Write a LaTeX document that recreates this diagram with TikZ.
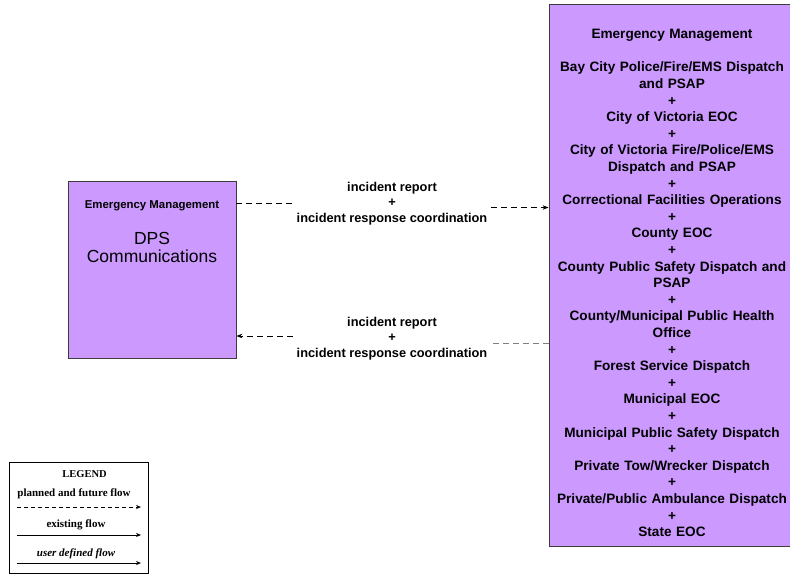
\documentclass[tikz,border=0pt]{standalone}
\usepackage{fontspec}
\setmainfont{Liberation Sans}
\newfontfamily\legendfont{Liberation Serif}
\usetikzlibrary{arrows.meta,calc}
\definecolor{boxfill}{RGB}{204,153,255}
\definecolor{boxline}{RGB}{60,60,60}
\tikzset{
  entity/.style={draw=boxline,fill=boxfill,line width=0.8pt,inner sep=0pt},
  flowlabel/.style={align=center,font=\bfseries\fontsize{12.8}{15.5}\selectfont,inner sep=1pt},
  planned/.style={line width=0.8pt,dash pattern=on 6pt off 4pt,-{Stealth[length=6pt,width=4.5pt]}},
  legtext/.style={font=\legendfont\bfseries\fontsize{11}{12}\selectfont,inner sep=0pt}
}
\begin{document}
\begin{tikzpicture}[x=1pt,y=-1pt]
\useasboundingbox (0,0) rectangle (790,574);
\fill[white] (0,0) rectangle (790,574);
% left entity
\node[entity,minimum width=168pt,minimum height=177pt] (L) at (152,269.5) {};
\node[font=\bfseries\fontsize{11.4}{12}\selectfont,inner sep=0pt] (Lt) at (152,206) {Emergency Management};
\node[align=center,font=\fontsize{17.5}{18}\selectfont,inner sep=0pt] (Ln) at (152,247) {DPS\\Communications};
% right entity
\node[entity,minimum width=250pt,minimum height=542pt] (R) at (674,275) {};
\node[align=center,font=\bfseries\fontsize{13.6}{16.6}\selectfont,inner sep=0pt,text width=248pt] (Rt) at (672,283) {Emergency Management\\[16.6pt]
Bay City Police/Fire/EMS Dispatch\\and PSAP\\+\\City of Victoria EOC\\+\\City of Victoria Fire/Police/EMS\\Dispatch and PSAP\\+\\Correctional Facilities Operations\\+\\County EOC\\+\\County Public Safety Dispatch and\\PSAP\\+\\County/Municipal Public Health\\Office\\+\\Forest Service Dispatch\\+\\Municipal EOC\\+\\Municipal Public Safety Dispatch\\+\\Private Tow/Wrecker Dispatch\\+\\Private/Public Ambulance Dispatch\\+\\State EOC};
% flows
\node[flowlabel] (f1) at (392,203.5) {incident report\\+\\incident response coordination};
\node[flowlabel] (f2) at (392,338.5) {incident report\\+\\incident response coordination};
\draw[line width=0.8pt,dash pattern=on 6pt off 4pt] (L.east |- f1.center) -- ($(f1.west |- f1.center)+(-3,0)$);
\draw[planned] ($(f1.east |- f1.center)+(2,4)$) -- ($(R.west |- f1.center)+(0,4)$);
\draw[line width=0.8pt,dash pattern=on 6pt off 4pt,gray] ($(R.west |- f2.center)+(0,4.5)$) -- ($(f2.east |- f2.center)+(2,4.5)$);
\draw[planned] ($(f2.west |- f2.center)+(-3,-2.5)$) -- ($(L.east |- f2.center)+(0,-2.5)$);
% legend
\node[draw,line width=0.8pt,minimum width=139pt,minimum height=111pt,inner sep=0pt] (G) at (78.5,517.5) {};
\node[legtext,font=\legendfont\bfseries\fontsize{10.5}{12}\selectfont] (g0) at (84.5,474) {LEGEND};
\node[legtext] (g1) at (74,494) {planned and future flow};
\node[legtext] (g2) at (76,524.5) {existing flow};
\node[legtext,font=\legendfont\bfseries\itshape\fontsize{11}{12}\selectfont] (g3) at (76,553.5) {user defined flow};
\draw[line width=0.7pt,dash pattern=on 4pt off 3pt,-{Stealth[length=5pt,width=4pt]}] (17,507) -- (141,507);
\draw[line width=0.7pt,-{Stealth[length=5pt,width=4pt]}] (17,535) -- (141,535);
\draw[line width=0.9pt,-{Stealth[length=5pt,width=4pt]}] (17,563) -- (141,563);
\end{tikzpicture}
\end{document}
